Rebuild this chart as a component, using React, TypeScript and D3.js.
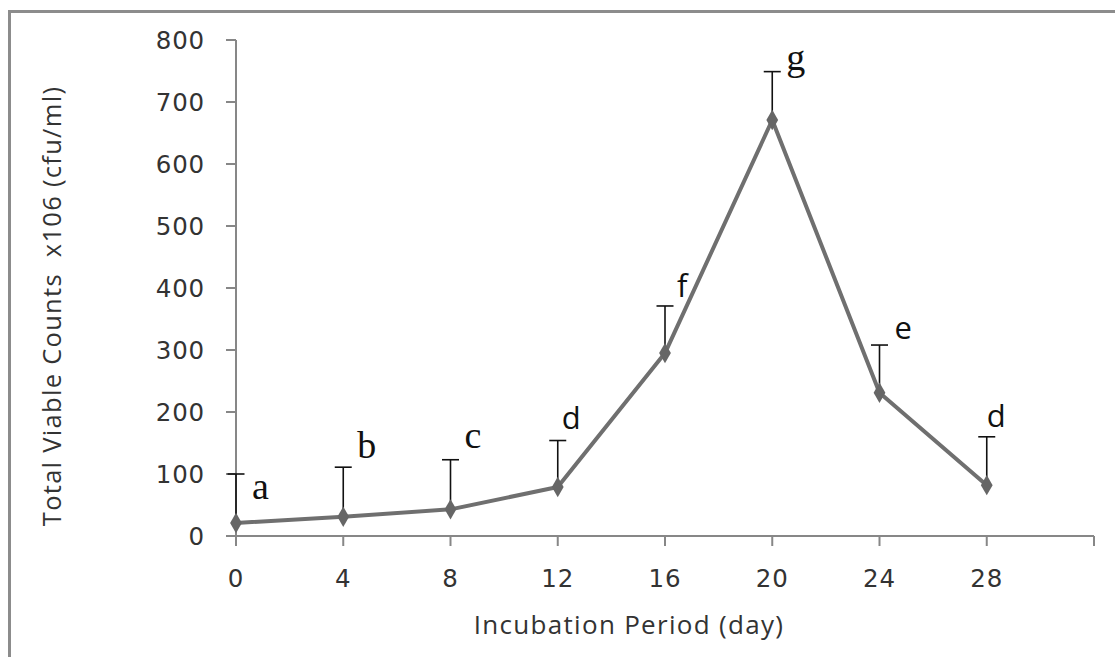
import React from "react";
import * as d3 from "d3";

// Incubation day, mean viable count (x10^6 cfu/ml), upper error and significance letter
const days = [0, 4, 8, 12, 16, 20, 24, 28];
const counts = [21, 31, 43, 79, 295, 671, 231, 82];
const errorsPlus = [79, 80, 80, 75, 76, 78, 77, 78];
const groupLetters = ["a", "b", "c", "d", "f", "g", "e", "d"];

const xTicks = [0, 4, 8, 12, 16, 20, 24, 28, 32];
const xTickLabels = ["0", "4", "8", "12", "16", "20", "24", "28", ""];
const yTicks = [0, 100, 200, 300, 400, 500, 600, 700, 800];

const xTitle = "Incubation Period (day)";
const yTitle = "Total Viable Counts\u00A0\u00A0x106 (cfu/ml)";

// Letter placement relative to the top of each error bar
const letterOffsets: [number, number][] = [
  [16, 25], [14, -9], [14, -12], [4, -12], [12, -9], [14, -2], [15, -6], [0, -10],
];
const serifLetters = new Set(["a", "b", "c", "g"]);

const W = 1115;
const H = 657;

export default function App() {
  const x = d3.scaleLinear().domain([0, 32]).range([236, 1094]);
  const y = d3.scaleLinear().domain([0, 800]).range([536, 40]);

  const pts = days.map((d, i) => ({ d, v: counts[i], e: errorsPlus[i], l: groupLetters[i] }));
  const line = d3
    .line<{ d: number; v: number }>()
    .x((p) => x(p.d))
    .y((p) => y(p.v));
  const diamond = d3.symbol().type(d3.symbolDiamond).size(120)();

  const axisColor = "#878787";
  const textColor = "#333";

  return (
    <svg
      width={W}
      height={H}
      style={{ position: "fixed", left: 0, top: 0, background: "#fff" }}
    >
      {/* chart-area frame */}
      <rect x={9.5} y={11.5} width={1300} height={900} fill="#fff" stroke="#8c8c8c" strokeWidth={3} />

      {/* y axis */}
      <line x1={x(0)} x2={x(0)} y1={y(0)} y2={y(800)} stroke={axisColor} strokeWidth={2} />
      {yTicks.map((t) => (
        <g key={"yt" + t}>
          <line x1={x(0) - 10} x2={x(0)} y1={y(t)} y2={y(t)} stroke={axisColor} strokeWidth={2} />
          <text
            x={x(0) - 31}
            y={y(t)}
            dy="0.36em"
            textAnchor="end"
            fontFamily="DejaVu Sans"
            fontSize={24.5}
            letterSpacing={0.8}
            fill={textColor}
          >
            {t}
          </text>
        </g>
      ))}

      {/* x axis */}
      <line x1={x(0)} x2={x(32)} y1={y(0)} y2={y(0)} stroke={axisColor} strokeWidth={2} />
      {xTicks.map((t, i) => (
        <g key={"xt" + t}>
          <line x1={x(t)} x2={x(t)} y1={y(0)} y2={y(0) + 10} stroke={axisColor} strokeWidth={2} />
          <text
            x={x(t)}
            y={587}
            textAnchor="middle"
            fontFamily="DejaVu Sans"
            fontSize={24.5}
            letterSpacing={0.8}
            fill={textColor}
          >
            {xTickLabels[i]}
          </text>
        </g>
      ))}

      {/* axis titles */}
      <text
        x={629}
        y={634}
        textAnchor="middle"
        fontFamily="Open Sans"
        fontSize={26}
        letterSpacing={1.3}
        fill={textColor}
      >
        {xTitle}
      </text>
      <text
        transform={`translate(61,306) rotate(-90)`}
        textAnchor="middle"
        fontFamily="Open Sans"
        fontSize={25.5}
        letterSpacing={1.3}
        fill={textColor}
      >
        {yTitle}
      </text>

      {/* error bars (upper only) */}
      {pts.map((p, i) => (
        <g key={"eb" + i} stroke="#111" strokeWidth={1.6}>
          <line x1={x(p.d)} x2={x(p.d)} y1={y(p.v)} y2={y(p.v + p.e)} />
          <line x1={x(p.d) - 8.5} x2={x(p.d) + 8.5} y1={y(p.v + p.e)} y2={y(p.v + p.e)} />
        </g>
      ))}

      {/* series line and markers */}
      <path d={line(pts) ?? ""} fill="none" stroke="#6f6f6f" strokeWidth={4} strokeLinejoin="round" />
      {pts.map((p, i) => (
        <path key={"mk" + i} d={diamond ?? ""} transform={`translate(${x(p.d)},${y(p.v)})`} fill="#666" />
      ))}

      {/* significance letters */}
      {pts.map((p, i) => {
        const serif = serifLetters.has(p.l);
        return (
          <text
            key={"lt" + i}
            x={x(p.d) + letterOffsets[i][0]}
            y={y(p.v + p.e) + letterOffsets[i][1]}
            fontFamily={serif ? "Liberation Serif" : "Open Sans"}
            fontSize={serif ? 38 : 31}
            fill="#111"
          >
            {p.l}
          </text>
        );
      })}
    </svg>
  );
}
